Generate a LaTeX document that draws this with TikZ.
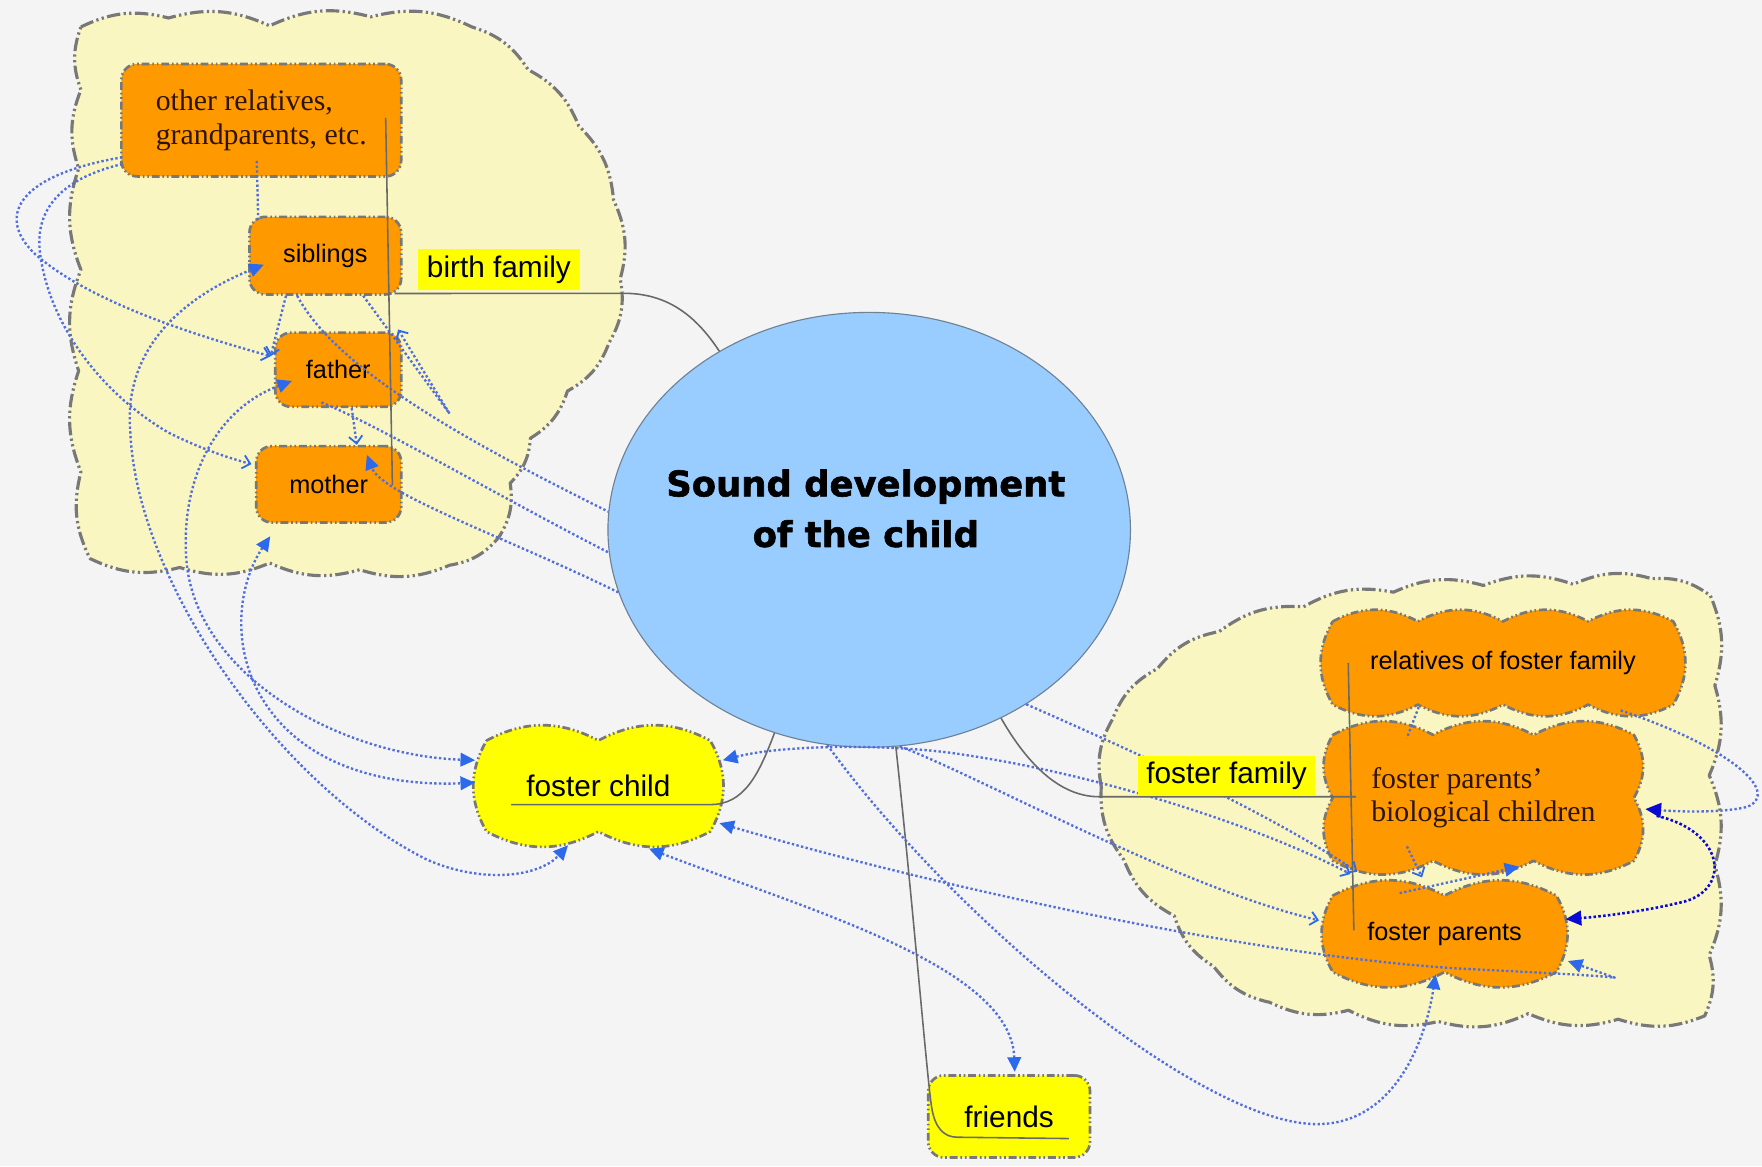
\documentclass[tikz,border=0pt]{standalone}
\usepackage{fontspec}
\newfontfamily\arialf{Liberation Sans}
\newfontfamily\timesf{Liberation Serif}
\newfontfamily\titlef{DejaVu Sans}[BoldFeatures={FakeBold=1.6}]
\usetikzlibrary{arrows.meta,shapes.geometric,calc}
\definecolor{bg}{RGB}{244,244,244}
\definecolor{cloudf}{RGB}{250,246,194}
\definecolor{orng}{RGB}{255,153,0}
\definecolor{yel}{RGB}{255,255,0}
\definecolor{ellf}{RGB}{153,204,255}
\definecolor{elld}{RGB}{110,130,150}
\definecolor{bordc}{RGB}{120,120,120}
\definecolor{treec}{RGB}{105,105,105}
\definecolor{dotc}{RGB}{80,110,220}
\definecolor{arrc}{RGB}{45,105,235}
\definecolor{darkb}{RGB}{10,10,210}
\definecolor{sertext}{RGB}{45,20,0}
\tikzset{
  fT/.tip={Triangle[length=13pt,width=12pt,color=arrc,fill=arrc]},
  oT/.tip={Straight Barb[length=6.5pt,width=12pt,color=arrc,line width=1.6pt]},
  dT/.tip={Triangle[length=14pt,width=13pt,color=darkb,fill=darkb]},
  bigcloud/.style={draw=bordc,fill=cloudf,line width=2.8pt,
    dash pattern=on 12pt off 3pt on 2pt off 3pt on 2pt off 3pt},
  wavy/.style={draw=bordc,line width=2.4pt,
    dash pattern=on 7pt off 2.5pt on 1.5pt off 2.5pt on 1.5pt off 2.5pt},
  box/.style={rectangle,rounded corners=14pt,draw=bordc,fill=orng,line width=2.4pt,
    dash pattern=on 7pt off 2.5pt on 1.5pt off 2.5pt on 1.5pt off 2.5pt,
    inner sep=0pt,font=\arialf\fontsize{22.5}{26}\selectfont},
  plain/.style={rectangle,inner sep=0pt,font=\arialf\fontsize{22.5}{26}\selectfont},
  lab/.style={rectangle,fill=yel,inner sep=0pt,font=\arialf\fontsize{26.5}{30}\selectfont},
  dl/.style={draw=dotc,line width=2.1pt,dash pattern=on 2.1pt off 2.1pt},
  dld/.style={draw=darkb,line width=2.3pt,dash pattern=on 2.3pt off 2pt},
  tree/.style={draw=treec,line width=1.4pt}
}
\newcommand{\wavyrect}[7]{%
  \path[#1] (#2,#3)
  \foreach \i in {1,...,#6}{ to[bend left=28] ({#2+\i*(#4-#2)/#6},#3) }
  \foreach \i in {1,...,#7}{ to[bend left=30] (#4,{#3+\i*(#5-#3)/#7}) }
  \foreach \i in {1,...,#6}{ to[bend left=28] ({#4-\i*(#4-#2)/#6},#5) }
  \foreach \i in {1,...,#7}{ to[bend left=30] (#2,{#5-\i*(#5-#3)/#7}) }
  -- cycle;}
\begin{document}
\begin{tikzpicture}[x=1pt,y=-1pt,line join=round]
\useasboundingbox (0,0) rectangle (1568,1038);
\fill[bg] (0,0) rectangle (1568,1038);

% big clouds
\path[bigcloud] (72,24) \foreach \x/\y in {150/16,240/23,330/15,420/24,470/62,515/112,546/178,552/248,542/305,505/348,472/390,454/430,444/478,400/503,320/507,240/501,160/505,80/497,72/420,70/330,72/240,70/150,72/80,72/24}{ to[bend left=20] (\x,\y) } -- cycle;
\path[bigcloud] (980,700) \foreach \x/\y in {990/640,1030/595,1085/562,1160/540,1240/527,1320/521,1400/520,1470/515,1522/530,1526/610,1521/690,1526/770,1521/850,1517/904,1440/907,1360/902,1280/909,1200/899,1130/892,1080/860,1045/815,1000/765,980/700}{ to[bend left=20] (\x,\y) } -- cycle;

% central ellipse
\node[ellipse,draw=elld,line width=1pt,fill=ellf,minimum width=465pt,minimum height=387pt,inner sep=0pt] (ell) at (773.5,471.5) {};

% birth family boxes
\node[box,minimum width=249pt,minimum height=100pt,align=left,font=\timesf\fontsize{26.5}{30}\selectfont,text=sertext] (rel) at (232.5,107) {other relatives,\\grandparents, etc.};
\node[box,minimum width=135pt,minimum height=69pt] (sib) at (289.5,227.5) {siblings};
\node[box,minimum width=112pt,minimum height=66pt] (fat) at (301,329) {father};
\node[box,minimum width=129pt,minimum height=68pt] (mot) at (292.5,431) {mother};

% foster family shapes
\wavyrect{wavy,fill=orng}{1186}{553}{1489}{627}{4}{1}
\node[plain,minimum width=319pt,minimum height=90pt] (rff) at (1337.5,590) {relatives of foster family};
\wavyrect{wavy,fill=orng}{1186}{654}{1454}{766}{3}{2}
\node[plain,minimum width=284pt,minimum height=130pt,align=left,font=\timesf\fontsize{26.5}{30}\selectfont,text=sertext] (bio) at (1320,710) {foster parents’\\biological children};
\wavyrect{wavy,fill=orng}{1186}{797}{1385}{865}{2}{1}
\node[plain,minimum width=215pt,minimum height=92pt] (fp) at (1285.5,831) {foster parents};

% foster child and friends
\wavyrect{wavy,fill=yel}{433}{659}{632}{740}{2}{1}
\node[plain,minimum width=215pt,minimum height=105pt,font=\arialf\fontsize{26.5}{30}\selectfont] (fc) at (532.5,699.5) {foster child};
\node[box,fill=yel,minimum width=144pt,minimum height=73pt,font=\arialf\fontsize{26.5}{30}\selectfont] (fr) at (898,993.5) {friends};

\coordinate (xend) at (400,368);

% dotted connectors, birth family
\draw[dl,-oT] ($(rel.west)+(2,33)$) .. controls (20,155) and (-5,190) .. (30,225) .. controls (80,270) and (180,300) .. ($(fat.west)+(-3,-12)$);
\draw[dl,-oT] ($(rel.west)+(2,39)$) .. controls (50,160) and (30,190) .. (36,228) .. controls (45,290) and (90,350) .. (150,385) .. controls (180,400) and (205,408) .. ($(mot.west)+(-3,-18)$);
\draw[dl] ($(rel.south)+(-4,-15)$) -- ($(sib.north west)+(9,5)$);
\draw[dl,-oT] ($(sib.south)+(-35,0)$) -- ($(fat.west)+(-3,-12)$);
\draw[dl,-oT] ($(fat.south)+(12,0)$) -- ($(mot.north)+(25,0)$);
\draw[dl] ($(sib.south east)+(-35,0)$) -- (xend);
\draw[dl,-oT] (xend) -- ($(sib.south east)+(-4,30)$);
\draw[dl] ($(sib.south)+(-25,0)$) .. controls (300,330) and (420,395) .. (ell.176);
\draw[dl] ($(fat.south)+(-15,-5)$) .. controls (330,375) and (450,445) .. (ell.185);
\draw[dl,-fT] (ell.194) .. controls (450,478) and (340,440) .. ($(mot.north)+(34,9)$);

% birth family <-> foster child
\draw[dl,fT-fT] ($(sib.west)+(14,8)$) .. controls (150,270) and (110,320) .. (116,385) .. controls (122,520) and (250,700) .. (380,765) .. controls (430,787) and (480,780) .. ($(fc.south)+(-27,0)$);
\draw[dl,fT-fT] ($(fat.west)+(16,10)$) .. controls (190,365) and (160,430) .. (166,500) .. controls (175,600) and (300,672) .. ($(fc.west)+(-2,-23)$);
\draw[dl,fT-fT] ($(mot.south)+(-52,11)$) .. controls (215,515) and (205,565) .. (228,612) .. controls (262,680) and (340,700) .. ($(fc.west)+(-2,-3)$);

% middle / foster family
\draw[dl,fT-oT] ($(fc.east)+(3,-23)$) .. controls (700,662) and (800,662) .. (860,672) .. controls (980,690) and (1120,735) .. ($(fp.north west)+(24,-7)$);
\draw[dl,-oT] (ell.-48) .. controls (1000,665) and (1120,718) .. ($(fp.north west)+(30,-9)$);
\draw[dl,-oT] (ell.-82) .. controls (870,690) and (1050,790) .. ($(fp.west)+(-4,-12)$);
\draw[dl,fT-fT] ($(fc.east)+(0,33)$) .. controls (800,780) and (1100,850) .. (1300,862) .. controls (1380,866) and (1420,868) .. (1437,870) -- ($(fp.south east)+(2,-22)$);
\draw[dl,fT-fT] ($(fc.south)+(45,3)$) .. controls (720,810) and (900,860) .. ($(fr.north)+(5,-2)$);
\draw[dl,-fT] (ell.-101) .. controls (850,820) and (1080,1010) .. (1180,1000) .. controls (1240,995) and (1268,930) .. ($(fp.south)+(-8,-10)$);
\draw[dl,-fT] ($(fp.north)+(-40,10)$) -- ($(bio.south)+(32,-4)$);
\draw[dl] ($(rff.south)+(-75,-6)$) -- ($(bio.north)+(-68,12)$);
\draw[dl,-oT] ($(bio.south)+(-68,-22)$) -- ($(fp.north)+(-20,-4)$);
\draw[dl,-dT] ($(rff.south east)+(-55,-3)$) .. controls (1540,665) and (1585,705) .. (1555,718) .. controls (1530,724) and (1490,722) .. ($(bio.east)+(2,10)$);
\draw[dld,-dT] ($(bio.east)+(12,16)$) .. controls (1535,740) and (1540,790) .. (1500,802) .. controls (1460,812) and (1420,816) .. ($(fp.east)+(0,-13)$);

% tree connectors
\draw[tree] (ell.130) .. controls (620,282) and (595,261) .. (555,261) -- ($(sib.south east)+(-7,-2)$);
\draw[tree] ($(rel.east)+(-15,-2)$) -- ($(mot.east)+(-9,1)$);
\draw[tree] (ell.-55) .. controls (920,690) and (950,709) .. (978,709) -- ($(bio.west)+(29,-1)$);
\draw[tree] ($(rff.west)+(22,0)$) -- ($(fp.west)+(27,-3)$);
\draw[tree] (ell.245) .. controls (675,690) and (662,716) .. (632,716) -- ($(fc.west)+(30,16.5)$);
\draw[tree] (ell.-83) .. controls (812,800) and (825,960) .. (829,985) .. controls (832,1004) and (840,1012) .. (852,1012) -- ($(fr.south east)+(-20,-18)$);

% labels and title
\node[lab,minimum width=144pt,minimum height=36pt] (bflab) at (444,240) {birth family};
\node[lab,minimum width=157pt,minimum height=35pt] (fflab) at (1091.5,690.5) {foster family};
\node[align=center,font=\titlef\bfseries\fontsize{31.5}{45}\selectfont] (title) at (770.5,452.5) {Sound development\\of the child};
\end{tikzpicture}
\end{document}
